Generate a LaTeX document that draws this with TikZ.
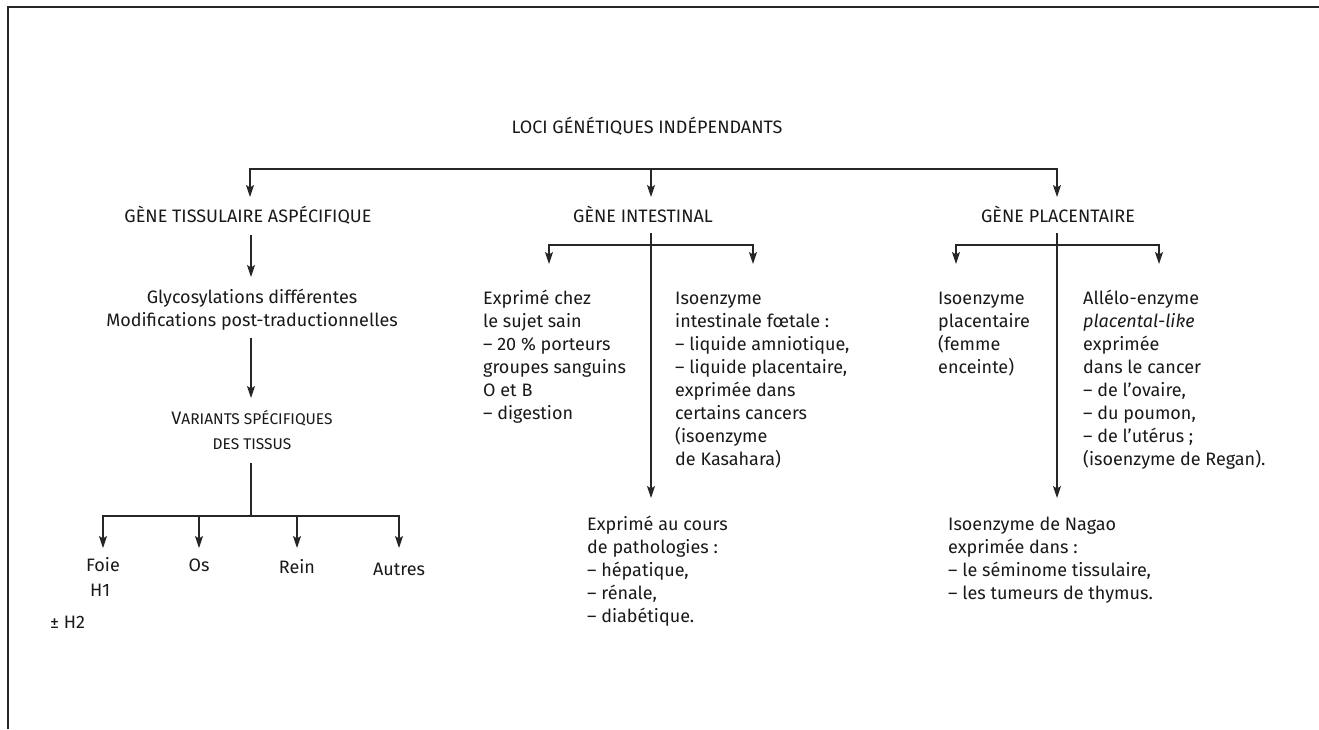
\documentclass[tikz,border=0pt]{standalone}
\usepackage{fontspec}
\setmainfont{Fira Sans}
\usetikzlibrary{arrows.meta}
\newcommand\tbl[1]{\begin{tabular}[t]{@{}l@{}}#1\end{tabular}}
\newcommand\tbc[1]{\begin{tabular}[t]{@{}c@{}}#1\end{tabular}}
\newcommand\fsc[1]{{\fontsize{15.5}{25}\selectfont #1}}
\begin{document}
\begin{tikzpicture}[x=1pt,y=-1pt,
  txt/.style={inner sep=0pt, text=black!90, font=\fontsize{18}{23}\selectfont},
  ln/.style={line width=1.2pt, draw=black!85},
  arr/.style={ln, -{Stealth[length=12pt,width=8pt,inset=2.5pt]}}]
\useasboundingbox (0,0) rectangle (1319,729);
\draw[line width=1.5pt, draw=black!85] (8,729) -- (8,7) -- (1319,7);

% top level
\node[txt,anchor=base] (loci) at (647,133) {LOCI GÉNÉTIQUES INDÉPENDANTS};
\node[txt,anchor=base] (gt) at (248,222) {GÈNE TISSULAIRE ASPÉCIFIQUE};
\node[txt,anchor=base] (gi) at (643,222) {GÈNE INTESTINAL};
\node[txt,anchor=base] (gp) at (1058,222) {GÈNE PLACENTAIRE};

\coordinate (bl) at (250,169);
\coordinate (bm) at (651,169);
\coordinate (br) at (1057,169);
\coordinate (tgt) at (250,197);
\coordinate (tgi) at (651,197);
\coordinate (tgp) at (1057,197);
\draw[arr] (bm) -- (bl) -- (tgt);
\draw[arr] (bm) -- (br) -- (tgp);
\draw[arr] (bm) -- (tgi);

% left column
\node[txt,anchor=base] (gly) at (252,303) {\tbc{Glycosylations différentes\\Modifications post-traductionnelles}};
\node[txt,anchor=base] (var) at (252,424) {\fontsize{18}{25}\selectfont\tbc{V\fsc{ARIANTS SPÉCIFIQUES}\\\fsc{DES TISSUS}}};
\coordinate (g1) at (251,235);
\coordinate (g2) at (251,277);
\coordinate (g3) at (251,338);
\coordinate (g4) at (251,398);
\draw[arr] (g1) -- (g2);
\draw[arr] (g3) -- (g4);

\coordinate (v1) at (251,463);
\coordinate (v2) at (251,516);
\coordinate (h1) at (103,516);
\coordinate (h2) at (199,516);
\coordinate (h3) at (297,516);
\coordinate (h4) at (399,516);
\draw[ln] (v1) -- (v2);
\draw[ln] (h2) -- (h3);
\draw[arr] (h2) -- (h1) -- (103,548);
\draw[arr] (h3) -- (h4) -- (399,548);
\draw[arr] (h2) -- (199,548);
\draw[arr] (h3) -- (297,548);

\node[txt,anchor=base] (foie) at (103,571) {Foie};
\node[txt,anchor=base] (os) at (199,571) {Os};
\node[txt,anchor=base] (rein) at (297,573) {Rein};
\node[txt,anchor=base] (autres) at (399,575) {Autres};
\node[txt,anchor=base west] (hun) at (90,596) {H1};
\node[txt,anchor=base west] (hdeux) at (50,628) {± H2};

% intestinal
\coordinate (i0) at (651,233);
\coordinate (ic) at (651,245);
\coordinate (il) at (549,245);
\coordinate (ir) at (753,245);
\draw[arr] (ic) -- (il) -- (549,264);
\draw[arr] (ic) -- (ir) -- (753,264);
\draw[arr] (i0) -- (651,498);

\node[txt,anchor=base west] (isain) at (483,304) {\tbl{Exprimé chez\\le sujet sain\\– 20 \% porteurs\\groupes sanguins\\O et B\\– digestion}};
\node[txt,anchor=base west] (ifoet) at (675,304) {\tbl{Isoenzyme\\intestinale fœtale :\\– liquide amniotique,\\– liquide placentaire,\\exprimée dans\\certains cancers\\(isoenzyme\\de Kasahara)}};
\node[txt,anchor=base west] (ipath) at (587,530) {\tbl{Exprimé au cours\\de pathologies :\\– hépatique,\\– rénale,\\– diabétique.}};

% placental
\coordinate (p0) at (1057,233);
\coordinate (pc) at (1057,245);
\coordinate (pl) at (956,245);
\coordinate (pr) at (1159,245);
\draw[arr] (pc) -- (pl) -- (956,264);
\draw[arr] (pc) -- (pr) -- (1159,264);
\draw[arr] (p0) -- (1057,498);

\node[txt,anchor=base west] (pfem) at (938,304) {\tbl{Isoenzyme\\placentaire\\(femme\\enceinte)}};
\node[txt,anchor=base west] (pall) at (1083,304) {\tbl{Allélo-enzyme\\\textit{placental-like}\\exprimée\\dans le cancer\\– de l’ovaire,\\– du poumon,\\– de l’utérus ;\\(isoenzyme de Regan).}};
\node[txt,anchor=base west] (pnag) at (948,530) {\tbl{Isoenzyme de Nagao\\exprimée dans :\\– le séminome tissulaire,\\– les tumeurs de thymus.}};
\end{tikzpicture}
\end{document}
